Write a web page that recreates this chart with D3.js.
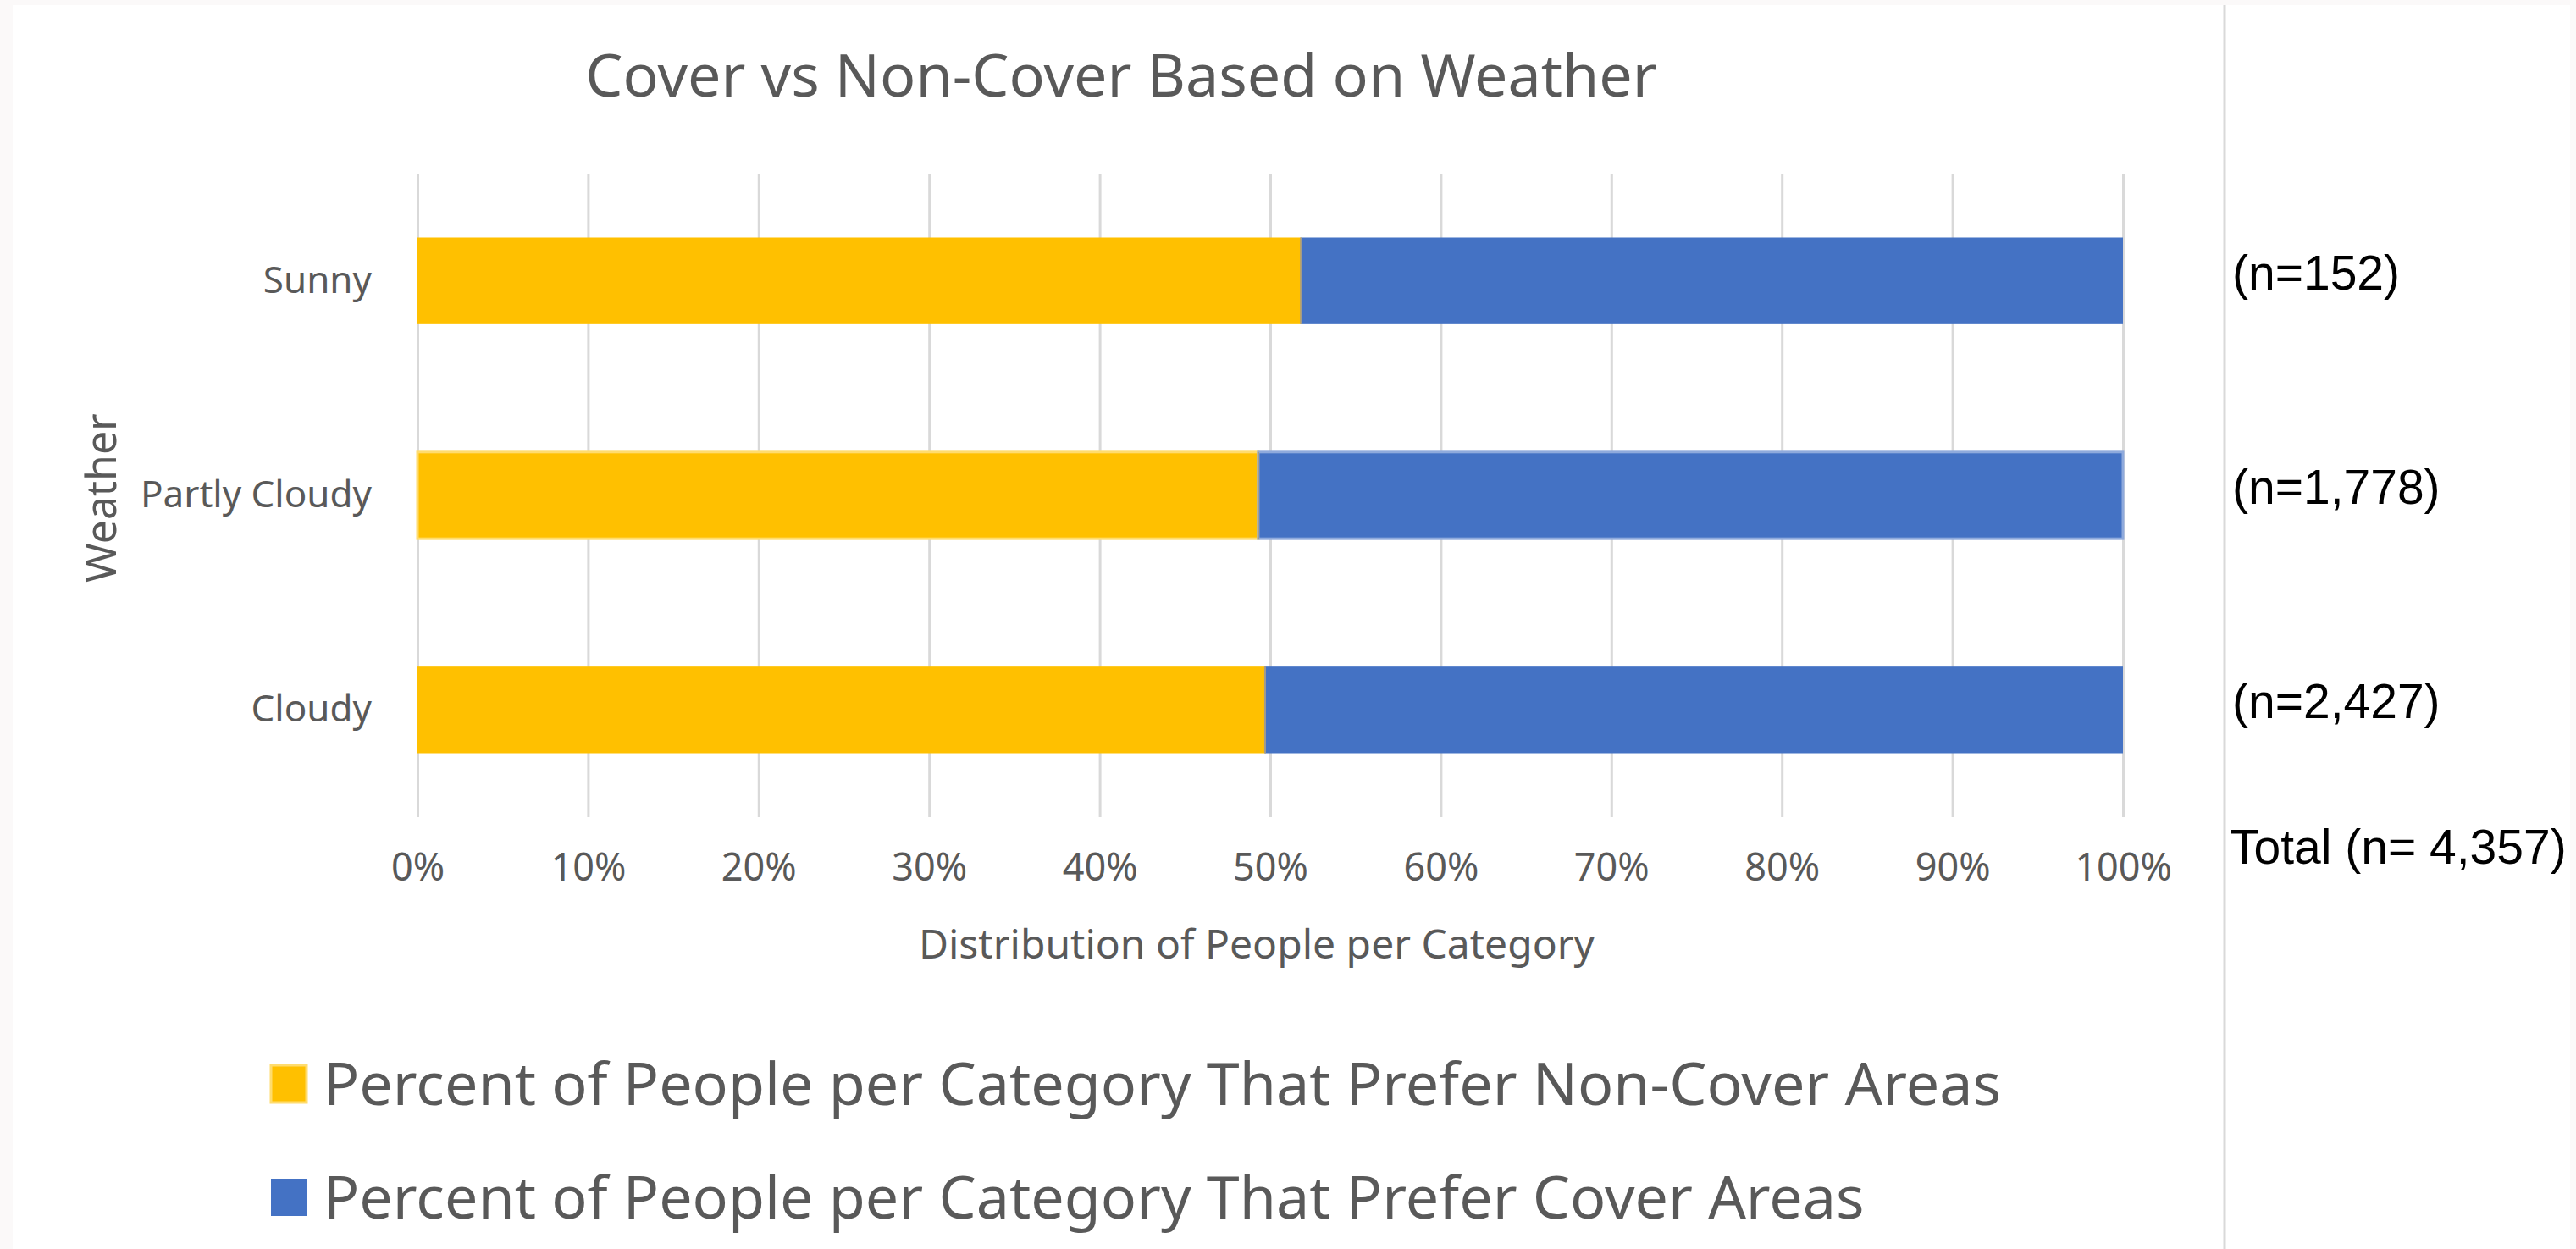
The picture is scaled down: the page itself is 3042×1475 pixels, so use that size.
<!DOCTYPE html>
<html><head><meta charset="utf-8">
<script src="https://cdn.jsdelivr.net/npm/d3@7"></script>
<style>html,body{margin:0;padding:0;background:#fbf9f9;overflow:hidden}</style>
</head><body>
<svg id="chart" width="3042" height="1475"></svg>
<script>
// ---- data ----
const categories = ["Sunny", "Partly Cloudy", "Cloudy"];
const nonCoverShare = [0.518, 0.493, 0.497];
const coverShare = [0.482, 0.507, 0.503];
const sampleLabels = ["(n=152)", "(n=1,778)", "(n=2,427)"];
const totalLabel = "Total (n= 4,357)";
const xTickValues = [0, 0.1, 0.2, 0.3, 0.4, 0.5, 0.6, 0.7, 0.8, 0.9, 1.0];
const seriesKeys = ["nonCover", "cover"];
const seriesNames = [
  "Percent of People per Category That Prefer Non-Cover Areas",
  "Percent of People per Category That Prefer Cover Areas"
];
const seriesColors = ["#FFC000", "#4472C4"];
const seriesLight = ["#FFDC6E", "#8FAADC"];
const chartTitle = "Cover vs Non-Cover Based on Weather";
const xTitle = "Distribution of People per Category";
const yTitle = "Weather";

// ---- layout ----
const W = 3042, H = 1475;
const plot = {left: 493, right: 2507, top: 205, bottom: 965};
const gray = "#595959";
const font = "'Noto Sans', 'Open Sans', sans-serif";

const svg = d3.select("#chart");

// white panel
svg.append("rect").attr("x", 15).attr("y", 6).attr("width", 3020).attr("height", H - 6).attr("fill", "#ffffff");

// separator line on the right
svg.append("line").attr("x1", 2627).attr("x2", 2627).attr("y1", 6).attr("y2", H)
  .attr("stroke", "#d9d9d9").attr("stroke-width", 3);

const rows = categories.map((c, i) => ({cat: c, nonCover: nonCoverShare[i], cover: coverShare[i]}));
const stacked = d3.stack().keys(seriesKeys)(rows);

const x = d3.scaleLinear().domain([0, 1]).range([plot.left, plot.right]);
const y = d3.scaleBand().domain(categories).range([plot.top, plot.bottom])
  .paddingInner(0.596).paddingOuter(0.298);

// x axis with gridlines
const xAxis = d3.axisBottom(x).tickValues(xTickValues).tickFormat(d3.format(".0%"))
  .tickSize(-(plot.bottom - plot.top)).tickPadding(43);
const gx = svg.append("g").attr("transform", `translate(0,${plot.bottom})`).call(xAxis);
gx.select(".domain").remove();
gx.selectAll(".tick line").attr("stroke", "#d9d9d9").attr("stroke-width", 3);
gx.selectAll(".tick text").attr("fill", gray).style("font-family", font).style("font-size", "45px");

// y axis
const yAxis = d3.axisLeft(y).tickSize(0).tickPadding(54);
const gy = svg.append("g").attr("transform", `translate(${plot.left},0)`).call(yAxis);
gy.select(".domain").remove();
gy.selectAll(".tick text").attr("fill", gray).attr("dy", "0.32em")
  .style("font-family", font).style("font-size", "44px");

// bars
const layers = svg.append("g").selectAll("g").data(stacked).join("g")
  .attr("fill", (d, i) => seriesColors[i]);
layers.selectAll("rect").data((d, si) => d.map(v => ({v, si}))).join("rect")
  .attr("x", d => x(d.v[0]))
  .attr("width", d => x(d.v[1]) - x(d.v[0]))
  .attr("y", d => y(d.v.data.cat))
  .attr("height", y.bandwidth())
  .attr("stroke", d => d.v.data.cat === categories[1] ? seriesLight[d.si] : "none")
  .attr("stroke-width", 3);

// boundary between segments
svg.append("g").selectAll("line").data(rows).join("line")
  .attr("x1", d => x(d.nonCover)).attr("x2", d => x(d.nonCover))
  .attr("y1", d => y(d.cat)).attr("y2", d => y(d.cat) + y.bandwidth())
  .attr("stroke", "#a39b8a").attr("stroke-width", 2);

// title
svg.append("text").attr("x", 1324).attr("y", 114).attr("text-anchor", "middle")
  .attr("fill", gray).style("font-family", font).style("font-size", "70px").text(chartTitle);

// axis titles
svg.append("text").attr("x", (plot.left + plot.right) / 2 - 16).attr("y", 1132).attr("text-anchor", "middle")
  .attr("fill", gray).style("font-family", font).style("font-size", "48px").text(xTitle);
svg.append("text").attr("transform", "translate(137,588) rotate(-90)").attr("text-anchor", "middle")
  .attr("fill", gray).style("font-family", font).style("font-size", "50px").text(yTitle);

// sample size labels
svg.append("g").selectAll("text").data(categories).join("text")
  .attr("x", 2636).attr("y", d => y(d) + y.bandwidth() / 2 + 10)
  .attr("fill", "#000").style("font-family", "'Liberation Sans', Arial, sans-serif").style("font-size", "57px")
  .text((d, i) => sampleLabels[i]);
svg.append("text").attr("x", 2633).attr("y", 1020)
  .attr("fill", "#000").style("font-family", "'Liberation Sans', Arial, sans-serif").style("font-size", "57px")
  .text(totalLabel);

// legend
const legend = svg.append("g").selectAll("g").data(seriesNames).join("g")
  .attr("transform", (d, i) => `translate(320,${1258 + i * 134})`);
legend.append("rect").attr("width", 42).attr("height", 44)
  .attr("fill", (d, i) => seriesColors[i])
  .attr("stroke", (d, i) => i === 0 ? seriesLight[0] : "none").attr("stroke-width", 3);
legend.append("text").attr("x", 62).attr("y", 47)
  .attr("fill", gray).style("font-family", font).style("font-size", "70px").text(d => d);
</script>
</body></html>
